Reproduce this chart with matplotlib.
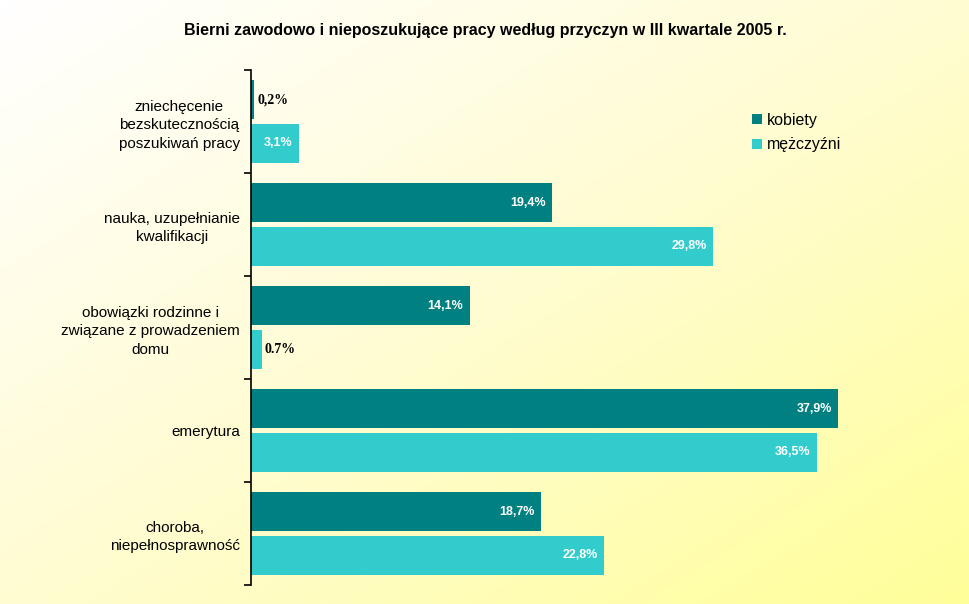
import numpy as np
import matplotlib.pyplot as plt
from matplotlib.colors import LinearSegmentedColormap

# Bierni zawodowo wg przyczyn, III kw. 2005
categories = ["zniechęcenie\nbezskutecznością\nposzukiwań pracy",
              "nauka, uzupełnianie\nkwalifikacji",
              "obowiązki rodzinne i\nzwiązane z prowadzeniem\ndomu",
              "emerytura",
              "choroba,\nniepełnosprawność"]
kobiety = [0.2, 19.4, 14.1, 37.9, 18.7]
mezczyzni = [3.1, 29.8, 0.7, 36.5, 22.8]
labels_k = ["0,2%", "19,4%", "14,1%", "37,9%", "18,7%"]
labels_m = ["3,1%", "29,8%", "0.7%", "36,5%", "22,8%"]

col_k = "#008080"
col_m = "#33CCCC"

fig = plt.figure(figsize=(9.7, 6.04), dpi=100)

# background gradient white -> light yellow
bg = fig.add_axes([0, 0, 1, 1], zorder=-1)
xx, yy = np.meshgrid(np.linspace(0, 1, 200), np.linspace(0, 1, 200))
grad = (xx + yy) / 2
cmap = LinearSegmentedColormap.from_list("bg", ["#FFFFFF", "#FFFCD2", "#FFFF99"])
bg.imshow(grad, cmap=cmap, aspect="auto", extent=[0, 1, 1, 0])
bg.axis("off")

ax = fig.add_axes([251 / 970, 1 - 585 / 604, 620 / 970, 515 / 604])
ax.patch.set_alpha(0)

y = np.arange(len(categories))
h = 0.38
off = 0.21
ax.barh(y - off, kobiety, height=h, color=col_k, label="kobiety")
ax.barh(y + off, mezczyzni, height=h, color=col_m, label="mężczyźni")

ax.set_xlim(0, 40)
ax.set_ylim(len(categories) - 0.5, -0.5)

for yi, v, lab in list(zip(y - off, kobiety, labels_k)) + list(zip(y + off, mezczyzni, labels_m)):
    if v < 2:
        ax.text(v + 0.2, yi, lab, ha="left", va="center", fontsize=10,
                fontweight="bold", family="Liberation Serif", color="black")
    else:
        ax.text(v - 0.4, yi, lab, ha="right", va="center", fontsize=9,
                fontweight="bold", family="Liberation Sans", color="white")

for s in ["top", "right", "bottom"]:
    ax.spines[s].set_visible(False)
ax.spines["left"].set_linewidth(1.2)
ax.set_xticks([])
ax.set_yticks(y)
ax.set_yticklabels(categories, fontsize=11, family="Liberation Sans",
                   ha="right", multialignment="center", linespacing=1.4)
ax.tick_params(axis="y", which="major", length=0, pad=8)
ax.set_yticks(np.arange(-0.5, len(categories), 1), minor=True)
ax.tick_params(axis="y", which="minor", length=5, width=1.2)

ax.legend(loc="upper left", bbox_to_anchor=(0.785, 0.945), frameon=False,
          prop={"family": "Liberation Sans", "size": 11.5},
          handlelength=0.6, handleheight=0.6, handletextpad=0.3,
          labelspacing=0.6)

fig.text(0.5, 1 - 31 / 604, "Bierni zawodowo i nieposzukujące pracy według przyczyn w III kwartale 2005 r.",
         ha="center", va="center", fontsize=11.5, fontweight="bold",
         family="Liberation Sans")

fig.savefig("out.png", dpi=100)
